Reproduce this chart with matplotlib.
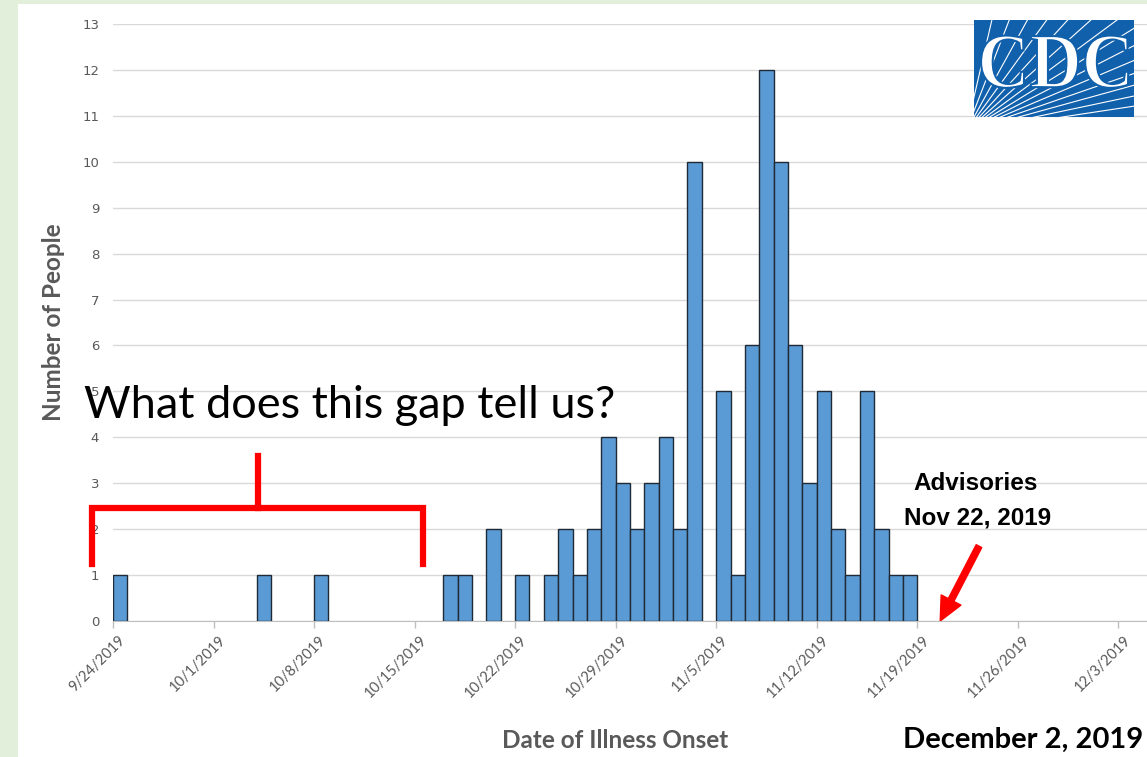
"""Epi curve: people infected by date of illness onset (CDC, December 2, 2019)."""

import matplotlib

matplotlib.use("Agg")
import matplotlib.dates as mdates
import matplotlib.pyplot as plt
import numpy as np
import pandas as pd
from matplotlib.font_manager import FontProperties
from matplotlib.patches import FancyArrowPatch, PathPatch, Rectangle
from matplotlib.textpath import TextPath
from matplotlib.transforms import Affine2D, ScaledTranslation

# --- data -----------------------------------------------------------------
onset_dates = [
    "2019-09-24", "2019-10-04", "2019-10-08", "2019-10-17", "2019-10-18",
    "2019-10-20", "2019-10-22", "2019-10-24", "2019-10-25", "2019-10-26",
    "2019-10-27", "2019-10-28", "2019-10-29", "2019-10-30", "2019-10-31",
    "2019-11-01", "2019-11-02", "2019-11-03", "2019-11-05", "2019-11-06",
    "2019-11-07", "2019-11-08", "2019-11-09", "2019-11-10", "2019-11-11",
    "2019-11-12", "2019-11-13", "2019-11-14", "2019-11-15", "2019-11-16",
    "2019-11-17", "2019-11-18",
]
people = [
    1, 1, 1, 1, 1,
    2, 1, 1, 2, 1,
    2, 4, 3, 2, 3,
    4, 2, 10, 5, 1,
    6, 12, 10, 6, 3,
    5, 2, 1, 5, 2,
    1, 1,
]
tick_dates = ["2019-09-24", "2019-10-01", "2019-10-08", "2019-10-15",
              "2019-10-22", "2019-10-29", "2019-11-05", "2019-11-12",
              "2019-11-19", "2019-11-26", "2019-12-03"]
tick_labels = ["9/24/2019", "10/1/2019", "10/8/2019", "10/15/2019",
               "10/22/2019", "10/29/2019", "11/5/2019", "11/12/2019",
               "11/19/2019", "11/26/2019", "12/3/2019"]

GRAY = "#595959"
BAR = "#5b9bd5"
RED = "#ff0000"
plt.rcParams["font.family"] = ["Lato", "DejaVu Sans"]

W, H = 1147, 757
fig = plt.figure(figsize=(W / 100, H / 100), dpi=100, facecolor="#e2efda")

# white slide panel, behind everything
fig.patches.append(Rectangle((18 / W, 0), 1 - 18 / W, 1 - 4 / H,
                             transform=fig.transFigure, facecolor="white",
                             edgecolor="none", zorder=-5))

ax = fig.add_axes([113 / W, (H - 621) / H, 1 - 113 / W, (621 - 24) / H])
ax.set_facecolor("none")

x = mdates.date2num(pd.to_datetime(onset_dates))
x0 = mdates.date2num(pd.Timestamp("2019-09-24"))
ax.bar(x, people, width=1.0, align="edge", color=BAR,
       edgecolor="#1e2a36", linewidth=1.0, zorder=3)

ax.set_xlim(x0, x0 + 72)
ax.set_ylim(0, 13)
ax.set_yticks(np.arange(0, 14))
ax.yaxis.grid(True, color="#d9d9d9", linewidth=1.0, zorder=0)
ax.set_axisbelow(True)
ax.tick_params(axis="y", length=0, pad=10, labelsize=9.5, labelcolor=GRAY)
for lab in ax.get_yticklabels():
    lab.set_family("DejaVu Sans")

ticks = mdates.date2num(pd.to_datetime(tick_dates))
ax.set_xticks(ticks)
ax.set_xticklabels(tick_labels, rotation=45, ha="right", rotation_mode="anchor")
ax.tick_params(axis="x", length=5, width=1, color="#bfbfbf",
               labelsize=10.5, labelcolor=GRAY, pad=4)
shift = ScaledTranslation(5 / 100, 0, fig.dpi_scale_trans)
for lab in ax.get_xticklabels():
    lab.set_transform(lab.get_transform() + shift)
for side in ("top", "right", "left"):
    ax.spines[side].set_visible(False)
ax.spines["bottom"].set_color("#bfbfbf")

ax.set_ylabel("Number of People", fontsize=17.5, fontweight="bold",
              color=GRAY, labelpad=12)
fig.text(615 / W, 1 - 740 / H, "Date of Illness Onset", fontsize=17.5,
         fontweight="bold", color=GRAY, ha="center", va="center")

# annotations
ax.text(x0 - 2, 4.7, "What does this gap tell us?", fontsize=32.5,
        color="black", ha="left", va="center", zorder=6, clip_on=False)

bx = [x0 - 1.45, x0 - 1.45, x0 + 21.6, x0 + 21.6]
by = [1.25, 2.45, 2.45, 1.25]
ax.plot(bx, by, color=RED, linewidth=4.5, solid_joinstyle="miter",
        clip_on=False, zorder=5)
ax.plot([x0 + 10.1, x0 + 10.1], [2.45, 3.6], color=RED, linewidth=4.5,
        clip_on=False, zorder=5)

ax.text(x0 + 60.05, 3.0, "Advisories", fontsize=17.5, fontweight="bold",
        family="Liberation Sans", ha="center", va="center")
ax.text(x0 + 60.2, 2.25, "Nov 22, 2019", fontsize=17.5, fontweight="bold",
        family="Liberation Sans", ha="center", va="center")
ax.add_patch(FancyArrowPatch(
    (x0 + 60.3, 1.63), (x0 + 57.6, 0.0),
    arrowstyle="simple,head_length=1.7,head_width=1.6,tail_width=0.45",
    mutation_scale=10, color=RED, shrinkA=0, shrinkB=0, zorder=6))

fig.text(1 - 4 / W, 1 - 740 / H, "December 2, 2019", fontsize=21,
         fontweight="bold", ha="right", va="center")

# CDC logo
lx, ly, lw, lh = 974 / W, 1 - 117 / H, 160 / W, 97 / H
logo = fig.add_axes([lx, ly, lw, lh])
logo.set_xlim(0, 1)
logo.set_ylim(0, 1)
logo.add_patch(Rectangle((0, 0), 1, 1, facecolor="#1160ac", edgecolor="none"))
for ang in np.linspace(14, 82, 14):
    t = np.radians(ang)
    logo.plot([-0.05, -0.05 + 1.8 * np.cos(t)], [-0.15, -0.15 + 1.8 * np.sin(t)],
              color="white", linewidth=0.8, clip_on=True)
tp = TextPath((0, 0), "CDC", size=50,
              prop=FontProperties(family="Liberation Serif", weight="bold"))
ext = tp.get_extents()
fit = (Affine2D().translate(-ext.x0, -ext.y0)
       .scale(0.92 / ext.width, 0.54 / ext.height).translate(0.044, 0.30))
logo.add_patch(PathPatch(fit.transform_path(tp), facecolor="white",
                         edgecolor="#1160ac", linewidth=1.5, zorder=4))
logo.set_axis_off()

fig.savefig("out.png", dpi=100, facecolor=fig.get_facecolor())
